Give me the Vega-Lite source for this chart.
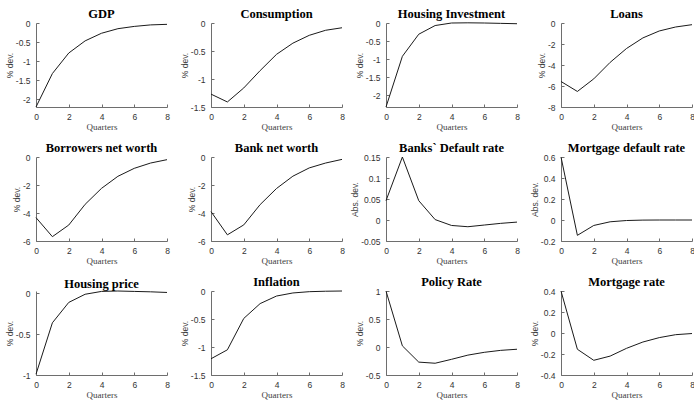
{
  "$schema": "https://vega.github.io/schema/vega-lite/v6.json",
  "background": "white",
  "padding": {"left": 5, "top": 7, "right": 2, "bottom": 0},
  "datasets": {
    "irf": [
      {"panel": "GDP", "q": 0, "v": -2.21}, {"panel": "GDP", "q": 1, "v": -1.33}, {"panel": "GDP", "q": 2, "v": -0.79}, {"panel": "GDP", "q": 3, "v": -0.47}, {"panel": "GDP", "q": 4, "v": -0.27}, {"panel": "GDP", "q": 5, "v": -0.15}, {"panel": "GDP", "q": 6, "v": -0.09}, {"panel": "GDP", "q": 7, "v": -0.05}, {"panel": "GDP", "q": 8, "v": -0.035},
      {"panel": "Consumption", "q": 0, "v": -1.27}, {"panel": "Consumption", "q": 1, "v": -1.41}, {"panel": "Consumption", "q": 2, "v": -1.16}, {"panel": "Consumption", "q": 3, "v": -0.85}, {"panel": "Consumption", "q": 4, "v": -0.56}, {"panel": "Consumption", "q": 5, "v": -0.36}, {"panel": "Consumption", "q": 6, "v": -0.22}, {"panel": "Consumption", "q": 7, "v": -0.13}, {"panel": "Consumption", "q": 8, "v": -0.085},
      {"panel": "Housing Investment", "q": 0, "v": -2.32}, {"panel": "Housing Investment", "q": 1, "v": -0.92}, {"panel": "Housing Investment", "q": 2, "v": -0.31}, {"panel": "Housing Investment", "q": 3, "v": -0.07}, {"panel": "Housing Investment", "q": 4, "v": 0.0}, {"panel": "Housing Investment", "q": 5, "v": 0.005}, {"panel": "Housing Investment", "q": 6, "v": 0.0}, {"panel": "Housing Investment", "q": 7, "v": -0.01}, {"panel": "Housing Investment", "q": 8, "v": -0.02},
      {"panel": "Loans", "q": 0, "v": -5.57}, {"panel": "Loans", "q": 1, "v": -6.52}, {"panel": "Loans", "q": 2, "v": -5.32}, {"panel": "Loans", "q": 3, "v": -3.75}, {"panel": "Loans", "q": 4, "v": -2.43}, {"panel": "Loans", "q": 5, "v": -1.42}, {"panel": "Loans", "q": 6, "v": -0.76}, {"panel": "Loans", "q": 7, "v": -0.38}, {"panel": "Loans", "q": 8, "v": -0.16},
      {"panel": "Borrowers net worth", "q": 0, "v": -4.33}, {"panel": "Borrowers net worth", "q": 1, "v": -5.69}, {"panel": "Borrowers net worth", "q": 2, "v": -4.86}, {"panel": "Borrowers net worth", "q": 3, "v": -3.38}, {"panel": "Borrowers net worth", "q": 4, "v": -2.24}, {"panel": "Borrowers net worth", "q": 5, "v": -1.38}, {"panel": "Borrowers net worth", "q": 6, "v": -0.81}, {"panel": "Borrowers net worth", "q": 7, "v": -0.43}, {"panel": "Borrowers net worth", "q": 8, "v": -0.19},
      {"panel": "Bank net worth", "q": 0, "v": -3.9}, {"panel": "Bank net worth", "q": 1, "v": -5.56}, {"panel": "Bank net worth", "q": 2, "v": -4.85}, {"panel": "Bank net worth", "q": 3, "v": -3.4}, {"panel": "Bank net worth", "q": 4, "v": -2.25}, {"panel": "Bank net worth", "q": 5, "v": -1.37}, {"panel": "Bank net worth", "q": 6, "v": -0.78}, {"panel": "Bank net worth", "q": 7, "v": -0.43}, {"panel": "Bank net worth", "q": 8, "v": -0.17},
      {"panel": "Banks` Default rate", "q": 0, "v": 0.046}, {"panel": "Banks` Default rate", "q": 1, "v": 0.15}, {"panel": "Banks` Default rate", "q": 2, "v": 0.046}, {"panel": "Banks` Default rate", "q": 3, "v": 0.001}, {"panel": "Banks` Default rate", "q": 4, "v": -0.013}, {"panel": "Banks` Default rate", "q": 5, "v": -0.016}, {"panel": "Banks` Default rate", "q": 6, "v": -0.012}, {"panel": "Banks` Default rate", "q": 7, "v": -0.008}, {"panel": "Banks` Default rate", "q": 8, "v": -0.005},
      {"panel": "Mortgage default rate", "q": 0, "v": 0.6}, {"panel": "Mortgage default rate", "q": 1, "v": -0.146}, {"panel": "Mortgage default rate", "q": 2, "v": -0.052}, {"panel": "Mortgage default rate", "q": 3, "v": -0.017}, {"panel": "Mortgage default rate", "q": 4, "v": -0.005}, {"panel": "Mortgage default rate", "q": 5, "v": -0.001}, {"panel": "Mortgage default rate", "q": 6, "v": 0.0}, {"panel": "Mortgage default rate", "q": 7, "v": 0.0}, {"panel": "Mortgage default rate", "q": 8, "v": 0.0},
      {"panel": "Housing price", "q": 0, "v": -0.99}, {"panel": "Housing price", "q": 1, "v": -0.36}, {"panel": "Housing price", "q": 2, "v": -0.11}, {"panel": "Housing price", "q": 3, "v": -0.01}, {"panel": "Housing price", "q": 4, "v": 0.025}, {"panel": "Housing price", "q": 5, "v": 0.03}, {"panel": "Housing price", "q": 6, "v": 0.025}, {"panel": "Housing price", "q": 7, "v": 0.02}, {"panel": "Housing price", "q": 8, "v": 0.012},
      {"panel": "Inflation", "q": 0, "v": -1.21}, {"panel": "Inflation", "q": 1, "v": -1.05}, {"panel": "Inflation", "q": 2, "v": -0.49}, {"panel": "Inflation", "q": 3, "v": -0.225}, {"panel": "Inflation", "q": 4, "v": -0.09}, {"panel": "Inflation", "q": 5, "v": -0.035}, {"panel": "Inflation", "q": 6, "v": -0.012}, {"panel": "Inflation", "q": 7, "v": -0.004}, {"panel": "Inflation", "q": 8, "v": 0.0},
      {"panel": "Policy Rate", "q": 0, "v": 1.0}, {"panel": "Policy Rate", "q": 1, "v": 0.02}, {"panel": "Policy Rate", "q": 2, "v": -0.27}, {"panel": "Policy Rate", "q": 3, "v": -0.29}, {"panel": "Policy Rate", "q": 4, "v": -0.22}, {"panel": "Policy Rate", "q": 5, "v": -0.145}, {"panel": "Policy Rate", "q": 6, "v": -0.095}, {"panel": "Policy Rate", "q": 7, "v": -0.06}, {"panel": "Policy Rate", "q": 8, "v": -0.04},
      {"panel": "Mortgage rate", "q": 0, "v": 0.4}, {"panel": "Mortgage rate", "q": 1, "v": -0.155}, {"panel": "Mortgage rate", "q": 2, "v": -0.26}, {"panel": "Mortgage rate", "q": 3, "v": -0.22}, {"panel": "Mortgage rate", "q": 4, "v": -0.146}, {"panel": "Mortgage rate", "q": 5, "v": -0.086}, {"panel": "Mortgage rate", "q": 6, "v": -0.044}, {"panel": "Mortgage rate", "q": 7, "v": -0.016}, {"panel": "Mortgage rate", "q": 8, "v": -0.005}
    ]
  },
  "data": {"name": "irf"},
  "columns": 4,
  "bounds": "flush",
  "spacing": {"row": 50, "column": 44},
  "concat": [
    {"title": "GDP", "width": 131, "height": 84, "transform": [{"filter": "datum.panel === 'GDP'"}], "mark": "line",
     "encoding": {"x": {"field": "q", "type": "quantitative", "scale": {"domain": [0, 8], "nice": false}, "axis": {"values": [0, 2, 4, 6, 8], "title": "Quarters"}},
                  "y": {"field": "v", "type": "quantitative", "scale": {"domain": [-2.21, 0], "nice": false, "zero": false}, "axis": {"values": [-2, -1.5, -1, -0.5, 0], "title": "% dev."}}}},
    {"title": "Consumption", "width": 131, "height": 84, "transform": [{"filter": "datum.panel === 'Consumption'"}], "mark": "line",
     "encoding": {"x": {"field": "q", "type": "quantitative", "scale": {"domain": [0, 8], "nice": false}, "axis": {"values": [0, 2, 4, 6, 8], "title": "Quarters"}},
                  "y": {"field": "v", "type": "quantitative", "scale": {"domain": [-1.5, 0], "nice": false, "zero": false}, "axis": {"values": [-1.5, -1, -0.5, 0], "title": "% dev."}}}},
    {"title": "Housing Investment", "width": 131, "height": 84, "transform": [{"filter": "datum.panel === 'Housing Investment'"}], "mark": "line",
     "encoding": {"x": {"field": "q", "type": "quantitative", "scale": {"domain": [0, 8], "nice": false}, "axis": {"values": [0, 2, 4, 6, 8], "title": "Quarters"}},
                  "y": {"field": "v", "type": "quantitative", "scale": {"domain": [-2.32, 0], "nice": false, "zero": false}, "axis": {"values": [-2, -1.5, -1, -0.5, 0], "title": "% dev."}}}},
    {"title": "Loans", "width": 131, "height": 84, "transform": [{"filter": "datum.panel === 'Loans'"}], "mark": "line",
     "encoding": {"x": {"field": "q", "type": "quantitative", "scale": {"domain": [0, 8], "nice": false}, "axis": {"values": [0, 2, 4, 6, 8], "title": "Quarters"}},
                  "y": {"field": "v", "type": "quantitative", "scale": {"domain": [-8, 0], "nice": false, "zero": false}, "axis": {"values": [-8, -6, -4, -2, 0], "title": "% dev."}}}},
    {"title": "Borrowers net worth", "width": 131, "height": 84, "transform": [{"filter": "datum.panel === 'Borrowers net worth'"}], "mark": "line",
     "encoding": {"x": {"field": "q", "type": "quantitative", "scale": {"domain": [0, 8], "nice": false}, "axis": {"values": [0, 2, 4, 6, 8], "title": "Quarters"}},
                  "y": {"field": "v", "type": "quantitative", "scale": {"domain": [-6, 0], "nice": false, "zero": false}, "axis": {"values": [-6, -4, -2, 0], "title": "% dev."}}}},
    {"title": "Bank net worth", "width": 131, "height": 84, "transform": [{"filter": "datum.panel === 'Bank net worth'"}], "mark": "line",
     "encoding": {"x": {"field": "q", "type": "quantitative", "scale": {"domain": [0, 8], "nice": false}, "axis": {"values": [0, 2, 4, 6, 8], "title": "Quarters"}},
                  "y": {"field": "v", "type": "quantitative", "scale": {"domain": [-6, 0], "nice": false, "zero": false}, "axis": {"values": [-6, -4, -2, 0], "title": "% dev."}}}},
    {"title": "Banks` Default rate", "width": 131, "height": 84, "transform": [{"filter": "datum.panel === 'Banks` Default rate'"}], "mark": "line",
     "encoding": {"x": {"field": "q", "type": "quantitative", "scale": {"domain": [0, 8], "nice": false}, "axis": {"values": [0, 2, 4, 6, 8], "title": "Quarters"}},
                  "y": {"field": "v", "type": "quantitative", "scale": {"domain": [-0.05, 0.15], "nice": false, "zero": false}, "axis": {"values": [-0.05, 0, 0.05, 0.1, 0.15], "title": "Abs. dev."}}}},
    {"title": "Mortgage default rate", "width": 131, "height": 84, "transform": [{"filter": "datum.panel === 'Mortgage default rate'"}], "mark": "line",
     "encoding": {"x": {"field": "q", "type": "quantitative", "scale": {"domain": [0, 8], "nice": false}, "axis": {"values": [0, 2, 4, 6, 8], "title": "Quarters"}},
                  "y": {"field": "v", "type": "quantitative", "scale": {"domain": [-0.2, 0.6], "nice": false, "zero": false}, "axis": {"values": [-0.2, 0, 0.2, 0.4, 0.6], "title": "Abs. dev."}}}},
    {"title": "Housing price", "width": 131, "height": 84, "transform": [{"filter": "datum.panel === 'Housing price'"}], "mark": "line",
     "encoding": {"x": {"field": "q", "type": "quantitative", "scale": {"domain": [0, 8], "nice": false}, "axis": {"values": [0, 2, 4, 6, 8], "title": "Quarters"}},
                  "y": {"field": "v", "type": "quantitative", "scale": {"domain": [-1, 0.03], "nice": false, "zero": false}, "axis": {"values": [-1, -0.5, 0], "title": "% dev."}}}},
    {"title": "Inflation", "width": 131, "height": 84, "transform": [{"filter": "datum.panel === 'Inflation'"}], "mark": "line",
     "encoding": {"x": {"field": "q", "type": "quantitative", "scale": {"domain": [0, 8], "nice": false}, "axis": {"values": [0, 2, 4, 6, 8], "title": "Quarters"}},
                  "y": {"field": "v", "type": "quantitative", "scale": {"domain": [-1.5, 0], "nice": false, "zero": false}, "axis": {"values": [-1.5, -1, -0.5, 0], "title": "% dev."}}}},
    {"title": "Policy Rate", "width": 131, "height": 84, "transform": [{"filter": "datum.panel === 'Policy Rate'"}], "mark": "line",
     "encoding": {"x": {"field": "q", "type": "quantitative", "scale": {"domain": [0, 8], "nice": false}, "axis": {"values": [0, 2, 4, 6, 8], "title": "Quarters"}},
                  "y": {"field": "v", "type": "quantitative", "scale": {"domain": [-0.5, 1], "nice": false, "zero": false}, "axis": {"values": [-0.5, 0, 0.5, 1], "title": "% dev."}}}},
    {"title": "Mortgage rate", "width": 131, "height": 84, "transform": [{"filter": "datum.panel === 'Mortgage rate'"}], "mark": "line",
     "encoding": {"x": {"field": "q", "type": "quantitative", "scale": {"domain": [0, 8], "nice": false}, "axis": {"values": [0, 2, 4, 6, 8], "title": "Quarters"}},
                  "y": {"field": "v", "type": "quantitative", "scale": {"domain": [-0.4, 0.4], "nice": false, "zero": false}, "axis": {"values": [-0.4, -0.2, 0, 0.2, 0.4], "title": "% dev."}}}}
  ],
  "config": {
    "view": {"stroke": null},
    "line": {"color": "#1a1a1a", "strokeWidth": 1},
    "title": {"font": "Liberation Serif", "fontSize": 12.5, "fontWeight": "bold", "color": "#000000", "anchor": "middle", "offset": -1},
    "axis": {
      "grid": false,
      "domainColor": "#6e6e6e",
      "tickColor": "#6e6e6e",
      "tickSize": -3,
      "labelFont": "Liberation Sans",
      "labelFontSize": 8.5,
      "labelColor": "#333333",
      "labelExpr": "'' + datum.value",
      "titleFontWeight": "normal",
      "titleColor": "#404040"
    },
    "axisX": {"titleFont": "Liberation Serif", "titleFontSize": 9, "labelPadding": 8, "titlePadding": 2, "labelFlush": false},
    "axisY": {"titleFont": "Liberation Sans", "titleFontSize": 8.5, "labelPadding": 9, "titlePadding": 1, "labelFlush": false}
  }
}
